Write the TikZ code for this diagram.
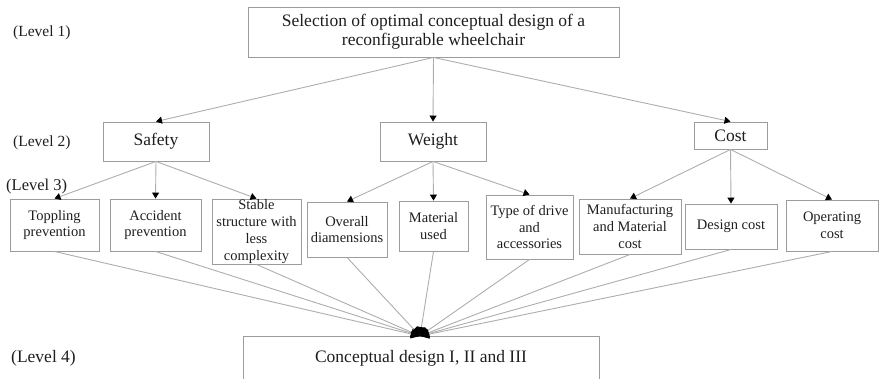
\documentclass[tikz,border=0pt]{standalone}
\usepackage{fontspec}
\setmainfont{Liberation Serif}
\usetikzlibrary{arrows.meta}
\definecolor{edge}{HTML}{ADADAD}
\definecolor{frame}{HTML}{9C9C9C}
\definecolor{ink}{HTML}{1E1E1E}

\begin{document}
\begin{tikzpicture}[x=1pt, y=-1pt,
    every node/.style={text=ink, align=center, inner sep=0pt},
    box/.style={draw=frame, line width=0.9pt, font=\fontsize{17.5}{19}\selectfont},
    sub/.style={draw=frame, line width=0.9pt, font=\fontsize{14.5}{16.8}\selectfont},
    lvl/.style={anchor=west},
    link/.style={draw=edge, line width=0.9pt, -{Triangle[length=6pt,width=7pt,color=black]}},
    merge/.style={draw=edge, line width=0.9pt, -{Triangle[length=9pt,width=9pt,color=black]}}]
    \useasboundingbox (0,0) rectangle (880,378);
    \clip (0,0) rectangle (880,378);
    % level labels
    \node (l1) [lvl, font=\fontsize{15.5}{18}\selectfont] at (13,33) {(Level 1)};
    \node (l2) [lvl, font=\fontsize{15.5}{18}\selectfont] at (13,143) {(Level 2)};
    \node (l3) [lvl, font=\fontsize{16.5}{18}\selectfont] at (6,187) {(Level 3)};
    \node (l4) [lvl, font=\fontsize{17.5}{19}\selectfont] at (11,358) {(Level 4)};
    % goal and criteria
    \node (goal) [box, minimum width=371, minimum height=50] at (433.5,32) {Selection of optimal conceptual design of a\\reconfigurable wheelchair};
    \node (safety) [box, minimum width=106, minimum height=39] at (156,141.5) {Safety};
    \node (weight) [box, minimum width=106, minimum height=39] at (433,141.5) {Weight};
    \node (cost) [box, minimum width=73, minimum height=27] at (730.5,135.5) {Cost};
    % sub-criteria
    \node (topple) [sub, minimum width=89, minimum height=52] at (54.5,225) {Toppling\\prevention};
    \node (accid) [sub, minimum width=91, minimum height=52] at (155.5,225) {Accident\\prevention};
    \node (stable) [sub, minimum width=89, minimum height=65] at (256.5,231.5) {Stable\\structure with\\less\\complexity};
    \node (overall) [sub, minimum width=80, minimum height=55] at (347,229.5) {Overall\\diamensions};
    \node (matl) [sub, minimum width=69, minimum height=50] at (433.5,226) {Material\\used};
    \node (drive) [sub, minimum width=87, minimum height=64] at (529.5,227) {Type of drive\\and\\accessories};
    \node (manuf) [sub, minimum width=102, minimum height=55] at (630,226.5) {Manufacturing\\and Material\\cost};
    \node (dcost) [sub, minimum width=92, minimum height=45] at (731,226.5) {Design cost};
    \node (ocost) [sub, minimum width=92, minimum height=51] at (832,225.5) {Operating\\cost};
    % alternatives
    \node (alt) [box, minimum width=356, minimum height=70] at (421,371) {};
    \node (alttxt) [font=\fontsize{17.5}{19}\selectfont] at (421,358) {Conceptual design I, II and III};
    \coordinate (join) at (420,336);
    \draw[link] (goal.south) -- (safety.north); \draw[link] (goal.south) -- (weight.north);
    \draw[link] (goal.south) -- (cost.north);
    \draw[link] (safety.south) -- (topple.north); \draw[link] (safety.south) -- (accid.north);
    \draw[link] (safety.south) -- (stable.north);
    \draw[link] (weight.south) -- (overall.north); \draw[link] (weight.south) -- (matl.north);
    \draw[link] (weight.south) -- (drive.north);
    \draw[link] (cost.south) -- (manuf.north); \draw[link] (cost.south) -- (dcost.north);
    \draw[link] (cost.south) -- (ocost.north);
    \foreach \s in {topple,accid,stable,overall,matl,drive,manuf,dcost,ocost}
      \draw[merge] (\s.south) -- (join);
\end{tikzpicture}
\end{document}
